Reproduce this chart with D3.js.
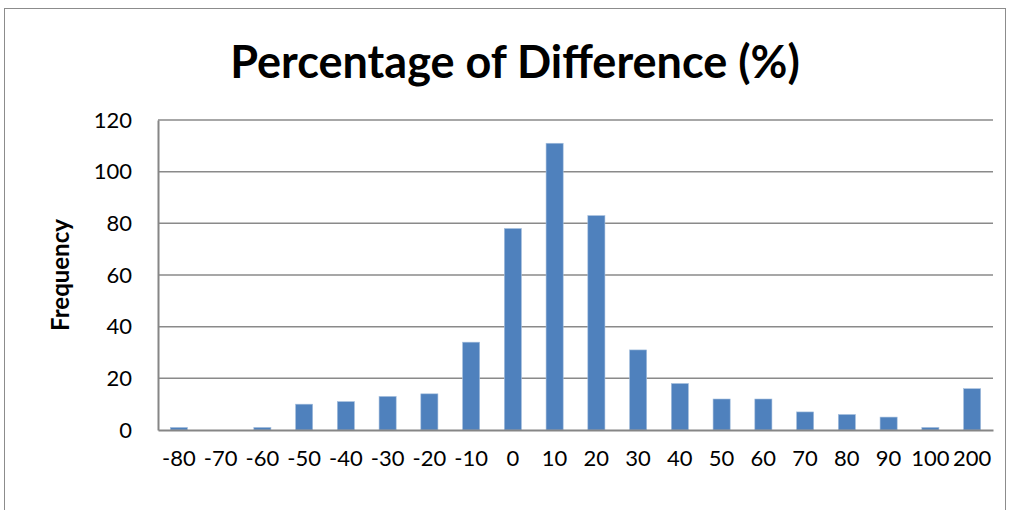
<!DOCTYPE html>
<html><head><meta charset="utf-8">
<script src="https://cdn.jsdelivr.net/npm/d3@7"></script>
<style>body{margin:0;background:#fff}svg{display:block}</style>
</head><body>
<svg id="c" width="1010" height="510"></svg>
<script>
const categories = ["-80","-70","-60","-50","-40","-30","-20","-10","0","10","20","30","40","50","60","70","80","90","100","200"];
const frequency = [1,0,1,10,11,13,14,34,78,111,83,31,18,12,12,7,6,5,1,16];
const yTicks = [0,20,40,60,80,100,120];
const titleText = "Percentage of Difference (%)";
const yLabel = "Frequency";

const svg = d3.select("#c");
const font = "Lato, 'Open Sans', sans-serif";
const m = {left:158, right:993, top:120, bottom:430};

svg.append("rect").attr("x",4.5).attr("y",8.5).attr("width",1001).attr("height",520)
  .attr("fill","none").attr("stroke","#8c8c8c").attr("stroke-width",1);

const x = d3.scaleBand().domain(categories).range([m.left,m.right]).paddingInner(0.59).paddingOuter(0.295);
const y = d3.scaleLinear().domain([0,120]).range([m.bottom,m.top]);

// gridlines
svg.append("g").selectAll("line").data(yTicks.filter(d=>d>0)).join("line")
  .attr("x1",m.left).attr("x2",m.right).attr("y1",d=>y(d)).attr("y2",d=>y(d))
  .attr("stroke","#8a8a8a").attr("stroke-width",1.5);

// bars
svg.append("g").selectAll("rect").data(frequency).join("rect")
  .attr("x",(d,i)=>x(categories[i])).attr("width",x.bandwidth())
  .attr("y",d=>y(d)).attr("height",d=>m.bottom-y(d))
  .attr("fill","#4f81bd").attr("stroke","#a7c0de").attr("stroke-width",0.6);

// y axis
const ya = svg.append("g").attr("transform",`translate(${m.left},0)`)
  .call(d3.axisLeft(y).tickValues(yTicks).tickSize(0).tickPadding(26));
ya.select(".domain").attr("stroke","#868686").attr("stroke-width",2);
ya.selectAll("text").attr("font-family",font).attr("font-size",22).attr("fill","#000");

// x axis
const xa = svg.append("g").attr("transform",`translate(0,${m.bottom})`)
  .call(d3.axisBottom(x).tickSize(0).tickPadding(20));
xa.select(".domain").attr("stroke","#868686").attr("stroke-width",2);
xa.selectAll("text").attr("font-family",font).attr("font-size",22).attr("fill","#000");

// title
svg.append("text").attr("x",515).attr("y",78).attr("text-anchor","middle")
  .attr("font-family",font).attr("font-weight","bold").attr("font-size",45)
  .text(titleText);

// y label
svg.append("text").attr("transform","translate(69,275) rotate(-90)").attr("text-anchor","middle")
  .attr("font-family",font).attr("font-weight","bold").attr("font-size",24)
  .text(yLabel);
</script>
</body></html>
